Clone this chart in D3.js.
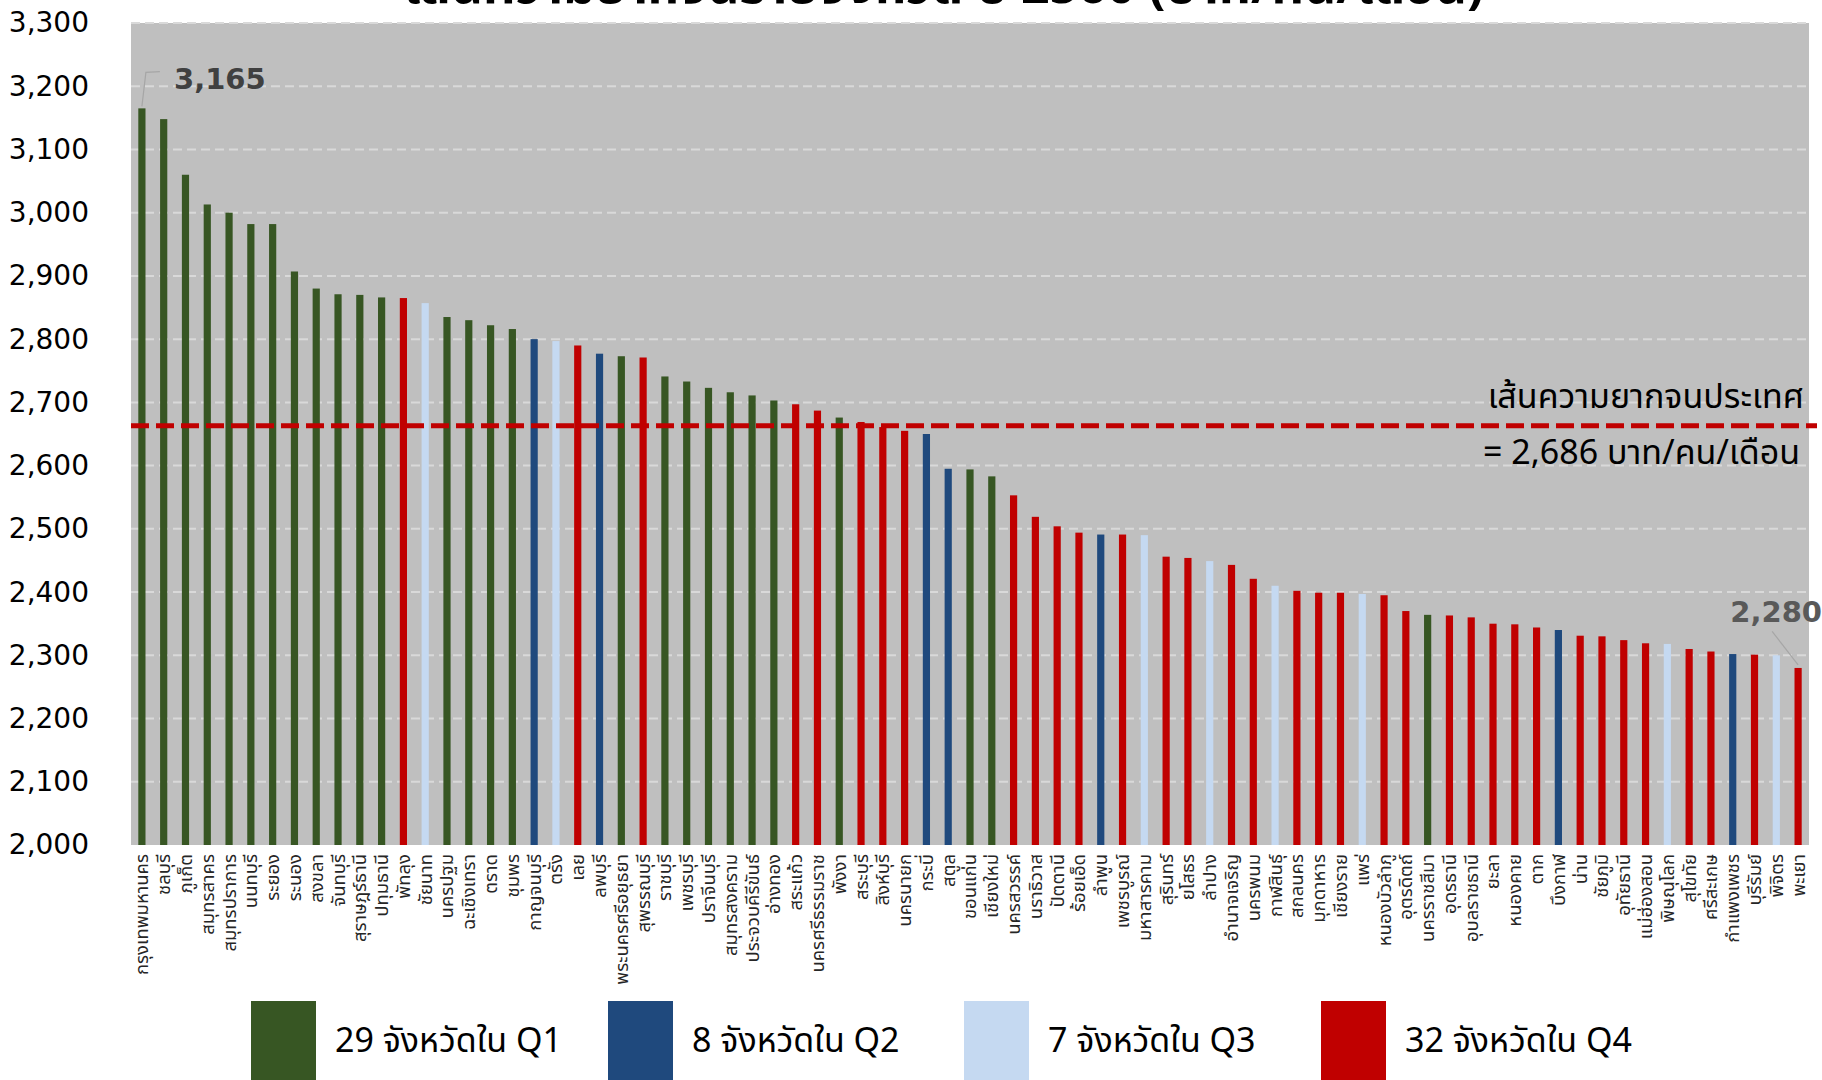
<!DOCTYPE html>
<html>
<head>
<meta charset="utf-8">
<script src="https://cdn.jsdelivr.net/npm/d3@7"></script>
<style>
  html, body { margin: 0; padding: 0; background: #fff; }
  svg { display: block; }
  text { font-family: Tahoma, "Noto Sans Thai", "DejaVu Sans", "Noto Sans", sans-serif; }
</style>
</head>
<body>
<svg id="chart" width="1822" height="1080"></svg>
<script>
// ---------------- DATA ----------------
const titleText = "เส้นความยากจนรายจังหวัด ปี 2560 (บาท/คน/เดือน)";

const provinces = [
  "กรุงเทพมหานคร","ชลบุรี","ภูเก็ต","สมุทรสาคร","สมุทรปราการ","นนทบุรี","ระยอง","ระนอง","สงขลา","จันทบุรี",
  "สุราษฎร์ธานี","ปทุมธานี","พัทลุง","ชัยนาท","นครปฐม","ฉะเชิงเทรา","ตราด","ชุมพร","กาญจนบุรี","ตรัง",
  "เลย","ลพบุรี","พระนครศรีอยุธยา","สุพรรณบุรี","ราชบุรี","เพชรบุรี","ปราจีนบุรี","สมุทรสงคราม","ประจวบคีรีขันธ์","อ่างทอง",
  "สระแก้ว","นครศรีธรรมราช","พังงา","สระบุรี","สิงห์บุรี","นครนายก","กระบี่","สตูล","ขอนแก่น","เชียงใหม่",
  "นครสวรรค์","นราธิวาส","ปัตตานี","ร้อยเอ็ด","ลำพูน","เพชรบูรณ์","มหาสารคาม","สุรินทร์","ยโสธร","ลำปาง",
  "อำนาจเจริญ","นครพนม","กาฬสินธุ์","สกลนคร","มุกดาหาร","เชียงราย","แพร่","หนองบัวลำภู","อุตรดิตถ์","นครราชสีมา",
  "อุดรธานี","อุบลราชธานี","ยะลา","หนองคาย","ตาก","บึงกาฬ","น่าน","ชัยภูมิ","อุทัยธานี","แม่ฮ่องสอน",
  "พิษณุโลก","สุโขทัย","ศรีสะเกษ","กำแพงเพชร","บุรีรัมย์","พิจิตร","พะเยา"
];

const povertyLine = [
  3165,3148,3060,3013,3000,2982,2982,2907,2880,2871,
  2870,2866,2865,2857,2835,2830,2822,2816,2800,2797,
  2790,2777,2773,2771,2741,2733,2723,2716,2711,2703,
  2697,2687,2676,2669,2661,2655,2650,2595,2594,2583,
  2553,2519,2504,2494,2491,2491,2490,2456,2454,2449,
  2443,2421,2410,2402,2399,2399,2397,2395,2370,2364,
  2363,2360,2350,2349,2344,2340,2331,2330,2324,2319,
  2318,2310,2306,2302,2301,2300,2280
];

const groupOf = [
  "Q1","Q1","Q1","Q1","Q1","Q1","Q1","Q1","Q1","Q1",
  "Q1","Q1","Q4","Q3","Q1","Q1","Q1","Q1","Q2","Q3",
  "Q4","Q2","Q1","Q4","Q1","Q1","Q1","Q1","Q1","Q1",
  "Q4","Q4","Q1","Q4","Q4","Q4","Q2","Q2","Q1","Q1",
  "Q4","Q4","Q4","Q4","Q2","Q4","Q3","Q4","Q4","Q3",
  "Q4","Q4","Q3","Q4","Q4","Q4","Q3","Q4","Q4","Q1",
  "Q4","Q4","Q4","Q4","Q4","Q2","Q4","Q4","Q4","Q4",
  "Q3","Q4","Q4","Q2","Q4","Q3","Q4"
];

const legendGroups = ["Q1","Q2","Q3","Q4"];
const legendLabels = ["29 จังหวัดใน Q1","8 จังหวัดใน Q2","7 จังหวัดใน Q3","32 จังหวัดใน Q4"];

const yTickValues = [2000,2100,2200,2300,2400,2500,2600,2700,2800,2900,3000,3100,3200,3300];
const yDomain = [2000, 3300];

const nationalLineLabel = 2686;     // value written in the note
const nationalLineDrawnAt = 2663;   // level at which the dashed line is drawn in the picture
const lineNote1 = "เส้นความยากจนประเทศ";
const lineNote2 = "= 2,686 บาท/คน/เดือน";

// ---------------- LAYOUT ----------------
const svg = d3.select("#chart");
const plot = { left: 131, right: 1809, top: 23, bottom: 845 };
const numFont = "'DejaVu Sans', Verdana, sans-serif";

const x = d3.scaleBand().domain(provinces).range([plot.left, plot.right]).paddingInner(0.67).paddingOuter(0.335);
const y = d3.scaleLinear().domain(yDomain).range([plot.bottom, plot.top]);

const color = d3.scaleOrdinal().domain(legendGroups).range(["#375623", "#1F497D", "#C5D9F1", "#C00000"]);

// plot background
svg.append("rect")
  .attr("x", plot.left).attr("y", plot.top)
  .attr("width", plot.right - plot.left).attr("height", plot.bottom - plot.top)
  .attr("fill", "#BFBFBF");

// title (mostly cut off at top of picture, as in the source)
svg.append("text")
  .attr("x", 944).attr("y", 3)
  .attr("text-anchor", "middle")
  .attr("font-size", 50).attr("font-weight", "bold")
  .attr("fill", "#000")
  .text(titleText);

// gridlines
svg.append("g").selectAll("line").data(yTickValues.filter(v => v > 2000)).join("line")
  .attr("x1", plot.left).attr("x2", plot.right)
  .attr("y1", d => y(d)).attr("y2", d => y(d))
  .attr("stroke", "#D9D9D9").attr("stroke-width", 2).attr("stroke-dasharray", "9,5");

// y axis
const yAxis = d3.axisLeft(y).tickValues(yTickValues).tickFormat(d3.format(",")).tickSize(0).tickPadding(0);
const gy = svg.append("g").attr("transform", `translate(${plot.left - 42},0)`).call(yAxis);
gy.select(".domain").remove();
gy.selectAll("text").attr("font-size", 28).attr("fill", "#000")
  .style("font-family", numFont);

// bars
svg.append("g").selectAll("rect").data(provinces).join("rect")
  .attr("x", d => x(d))
  .attr("width", x.bandwidth())
  .attr("y", (d, i) => y(povertyLine[i]))
  .attr("height", (d, i) => y(yDomain[0]) - y(povertyLine[i]))
  .attr("fill", (d, i) => color(groupOf[i]));

// x axis labels (rotated, reading bottom-to-top)
const xAxis = d3.axisBottom(x).tickSize(0).tickPadding(0);
const gx = svg.append("g").attr("transform", `translate(0,${plot.bottom})`).call(xAxis);
gx.select(".domain").remove();
gx.selectAll("text")
  .attr("font-size", 18.5).attr("fill", "#262626")
  .attr("text-anchor", "end")
  .attr("transform", "rotate(-90)")
  .attr("x", -9).attr("y", 0).attr("dy", "0.35em");

// national poverty line (dashed)
svg.append("line")
  .attr("x1", plot.left).attr("x2", plot.right + 8)
  .attr("y1", y(nationalLineDrawnAt)).attr("y2", y(nationalLineDrawnAt))
  .attr("stroke", "#C00000").attr("stroke-width", 5).attr("stroke-dasharray", "18,7");

svg.append("text").attr("x", 1804).attr("y", y(nationalLineDrawnAt) - 18)
  .attr("text-anchor", "end").attr("font-size", 34).attr("fill", "#000").text(lineNote1);
svg.append("text").attr("x", 1800).attr("y", y(nationalLineDrawnAt) + 38)
  .attr("text-anchor", "end").attr("font-size", 34).attr("fill", "#000").text(lineNote2);

// data labels with leader lines
const fmt = d3.format(",");
const firstI = 0, lastI = provinces.length - 1;
const fx = x(provinces[firstI]) + x.bandwidth() / 2;
svg.append("polyline")
  .attr("points", `${fx},${y(povertyLine[firstI]) - 2} ${fx + 4},${y(3222)} ${fx + 18},${y(3223)}`)
  .attr("fill", "none").attr("stroke", "#A6A6A6").attr("stroke-width", 1.2);
svg.append("text").attr("x", 174).attr("y", y(3195))
  .attr("font-size", 29).attr("font-weight", "bold").attr("fill", "#404040")
  .style("font-family", numFont)
  .text(fmt(povertyLine[firstI]));

const lx = x(provinces[lastI]) + x.bandwidth() / 2;
svg.append("line")
  .attr("x1", lx).attr("y1", y(povertyLine[lastI]) - 3)
  .attr("x2", lx - 26).attr("y2", y(2338))
  .attr("stroke", "#A6A6A6").attr("stroke-width", 1.2);
svg.append("text").attr("x", 1822).attr("y", y(2353))
  .attr("text-anchor", "end")
  .attr("font-size", 29).attr("font-weight", "bold").attr("fill", "#595959")
  .style("font-family", numFont)
  .text(fmt(povertyLine[lastI]));

// legend
const legendX = [251, 608, 964, 1321];
const lg = svg.append("g");
legendGroups.forEach((g, i) => {
  lg.append("rect").attr("x", legendX[i]).attr("y", 1001).attr("width", 65).attr("height", 80)
    .attr("fill", color(g));
  lg.append("text").attr("x", legendX[i] + 84).attr("y", 1052)
    .attr("font-size", 34).attr("fill", "#000").text(legendLabels[i]);
});
</script>
</body>
</html>
